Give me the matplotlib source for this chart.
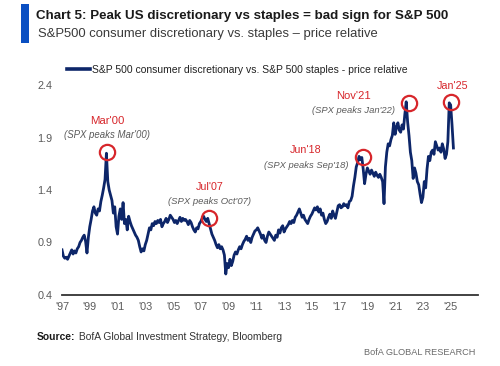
import numpy as np
import matplotlib
matplotlib.use("Agg")
import matplotlib.pyplot as plt
from matplotlib import font_manager
from matplotlib.patches import Rectangle

# ---------------- data (10 readings per year, 0.1-year steps from 1997.0) ----------------
start_year = 1997.0
step = 0.1
rows = [
    [0.83, 0.77, 0.75, 0.76, 0.74, 0.77, 0.80, 0.83, 0.79, 0.82],  # 1997
    [0.80, 0.84, 0.86, 0.90, 0.92, 0.95, 0.97, 0.91, 0.80, 0.95],  # 1998
    [1.05, 1.12, 1.20, 1.24, 1.18, 1.16, 1.22, 1.20, 1.29, 1.35],  # 1999
    [1.42, 1.50, 1.75, 1.48, 1.40, 1.35, 1.30, 1.18, 1.24, 1.05],  # 2000
    [0.98, 1.15, 1.22, 1.12, 1.28, 1.08, 1.12, 1.02, 1.15, 1.10],  # 2001
    [1.06, 1.03, 1.00, 0.97, 0.95, 0.92, 0.86, 0.81, 0.84, 0.82],  # 2002
    [0.88, 0.92, 0.98, 1.04, 1.02, 1.08, 1.06, 1.10, 1.08, 1.11],  # 2003
    [1.09, 1.12, 1.05, 1.08, 1.10, 1.13, 1.09, 1.12, 1.16, 1.14],  # 2004
    [1.12, 1.09, 1.11, 1.08, 1.11, 1.14, 1.10, 1.13, 1.11, 1.12],  # 2005
    [1.10, 1.07, 1.11, 1.09, 1.05, 1.02, 1.00, 1.04, 1.03, 1.08],  # 2006
    [1.10, 1.13, 1.15, 1.12, 1.10, 1.13, 1.08, 1.03, 0.98, 0.95],  # 2007
    [0.92, 0.88, 0.85, 0.88, 0.84, 0.86, 0.83, 0.78, 0.60, 0.70],  # 2008
    [0.66, 0.74, 0.68, 0.72, 0.78, 0.81, 0.79, 0.83, 0.86, 0.84],  # 2009
    [0.88, 0.91, 0.93, 0.96, 0.92, 0.94, 0.90, 0.95, 0.98, 1.01],  # 2010
    [1.02, 1.04, 1.01, 0.98, 0.94, 0.97, 0.92, 0.90, 0.96, 1.00],  # 2011
    [0.98, 0.96, 0.94, 0.92, 0.97, 0.95, 1.02, 0.99, 1.04, 1.06],  # 2012
    [1.00, 1.03, 1.05, 1.07, 1.10, 1.08, 1.11, 1.09, 1.14, 1.16],  # 2013
    [1.19, 1.22, 1.18, 1.14, 1.16, 1.12, 1.10, 1.08, 1.12, 1.15],  # 2014
    [1.17, 1.20, 1.23, 1.21, 1.24, 1.19, 1.22, 1.16, 1.18, 1.12],  # 2015
    [1.08, 1.10, 1.14, 1.17, 1.13, 1.20, 1.16, 1.13, 1.19, 1.25],  # 2016
    [1.26, 1.23, 1.24, 1.27, 1.25, 1.26, 1.23, 1.29, 1.30, 1.34],  # 2017
    [1.44, 1.52, 1.62, 1.66, 1.72, 1.69, 1.71, 1.60, 1.46, 1.55],  # 2018
    [1.61, 1.58, 1.55, 1.59, 1.56, 1.53, 1.57, 1.54, 1.52, 1.55],  # 2019
    [1.52, 1.48, 1.27, 1.62, 1.76, 1.84, 1.82, 1.88, 1.92, 2.04],  # 2020
    [1.93, 2.00, 2.04, 1.97, 1.95, 2.02, 1.98, 2.12, 2.24, 2.05],  # 2021
    [1.92, 1.76, 1.68, 1.51, 1.61, 1.56, 1.48, 1.45, 1.36, 1.28],  # 2022
    [1.33, 1.48, 1.42, 1.60, 1.72, 1.68, 1.76, 1.78, 1.74, 1.86],  # 2023
    [1.82, 1.78, 1.80, 1.76, 1.84, 1.79, 1.70, 1.74, 1.86, 2.23],  # 2024
    [2.21, 2.02, 1.80],                                            # 2025
]
values = [v for r in rows for v in r]
dates = [start_year + i * step for i in range(len(values))]

series_label = "S&P 500 consumer discretionary vs. S&P 500 staples - price relative"
y_ticks = [0.4, 0.9, 1.4, 1.9, 2.4]
x_ticks = [1997, 1999, 2001, 2003, 2005, 2007, 2009, 2011, 2013, 2015, 2017, 2019, 2021, 2023, 2025]
x_tick_labels = ["'97", "'99", "'01", "'03", "'05", "'07", "'09", "'11", "'13", "'15",
                 "'17", "'19", "'21", "'23", "'25"]

# annotations
ann_names = ["Mar'00", "Jul'07", "Jun'18", "Nov'21", "Jan'25"]
ann_subs = ["(SPX peaks Mar'00)", "(SPX peaks Oct'07)", "(SPX peaks Sep'18)", "(SPX peaks Jan'22)", ""]
circ_x = [2000.24, 2007.60, 2018.68, 2021.98, 2025.06]
circ_y = [1.762, 1.133, 1.717, 2.230, 2.235]
lab_x = [2000.24, 2007.63, 2014.57, 2017.98, 2025.14]
lab_y = [2.057, 1.431, 1.781, 2.295, 2.390]
sub_y = [1.924, 1.289, 1.638, 2.155, 0.0]
lab_w = [31, 25, 28, 31, 28]          # label widths in px
sub_w = [80, 77, 78, 77, 0]

title = "Chart 5: Peak US discretionary vs staples = bad sign for S&P 500"
subtitle = "S&P500 consumer discretionary vs. staples \u2013 price relative"
source_bold = "Source:"
source_rest = " BofA Global Investment Strategy, Bloomberg"
brand = "BofA GLOBAL RESEARCH"

# ---------------- style ----------------
W, H = 500, 366
NAVY = "#0d2669"
RED = "#d7262b"
GRAY = "#5a5a5a"

def has_font(name):
    try:
        font_manager.findfont(font_manager.FontProperties(family=name), fallback_to_default=False)
        return True
    except Exception:
        return False

NARROW = "Liberation Sans Narrow" if has_font("Liberation Sans Narrow") else "Liberation Sans"
REG = "Liberation Sans"

fig = plt.figure(figsize=(W / 100, H / 100), dpi=100)
fig.patch.set_facecolor("white")
renderer = fig.canvas.get_renderer()

def fx(x):
    return x / W

def fy(y):
    return 1 - y / H

def fit(t, target_px):
    bb = t.get_window_extent(renderer)
    t.set_fontsize(t.get_fontsize() * target_px / bb.width)
    return t

ax_l, ax_r, ax_t, ax_b = 62, 478, 85, 295
ax = fig.add_axes([fx(ax_l), fy(ax_b), (ax_r - ax_l) / W, (ax_b - ax_t) / H])
ax.set_xlim(1997, 1997 + (ax_r - ax_l) / 13.88)
ax.set_ylim(0.4, 2.4)

line, = ax.plot(dates, values, color=NAVY, lw=2.0, solid_joinstyle="round", label=series_label)

for s in ["top", "right", "left"]:
    ax.spines[s].set_visible(False)
ax.spines["bottom"].set_color("#333333")
ax.spines["bottom"].set_linewidth(1.3)
ax.set_yticks(y_ticks)
ax.set_yticklabels([f"{v:.1f}" for v in y_ticks])
ax.set_xticks(x_ticks)
ax.set_xticklabels(x_tick_labels)
ax.tick_params(axis="both", length=0, colors=GRAY)
ax.tick_params(axis="y", pad=7)
ax.tick_params(axis="x", pad=5)
for t in ax.get_xticklabels() + ax.get_yticklabels():
    t.set_fontfamily(REG)
    t.set_fontsize(7.8)
    t.set_color(GRAY)

# circles
ax.plot(circ_x, circ_y, "o", mfc="none", mec=RED, ms=11, mew=1.6, clip_on=False, zorder=5)

for i, name in enumerate(ann_names):
    t = ax.text(lab_x[i], lab_y[i], name, color=RED, ha="center", va="center",
                fontsize=9, family=NARROW, clip_on=False)
    fit(t, lab_w[i] * 1.12)
    if ann_subs[i]:
        s = ax.text(lab_x[i], sub_y[i], ann_subs[i], color=GRAY, ha="center", va="center",
                    fontsize=8.2, family=NARROW, style="italic", clip_on=False)
        fit(s, sub_w[i] * 1.08)

# legend: size fitted to the reference text width
probe = fig.text(0, 0, series_label, family=NARROW, fontsize=10)
leg_fs = 10 * 315 / probe.get_window_extent(renderer).width
probe.remove()
px_per_em = leg_fs * 100 / 72
leg = ax.legend(handles=[line], loc="center left", bbox_to_anchor=(fx(67), fy(70)),
                bbox_transform=fig.transFigure, frameon=False,
                handlelength=23 / px_per_em, handletextpad=2 / px_per_em,
                borderaxespad=0, borderpad=0,
                prop={"family": NARROW, "size": leg_fs})
leg.get_lines()[0].set_linewidth(2.6)
for t in leg.get_texts():
    t.set_color("#222222")

# header
fig.add_artist(Rectangle((fx(20.5), fy(43)), 8 / W, 39 / H, transform=fig.transFigure,
                         color="#0a4fc2", lw=0))
t_title = fig.text(fx(36.5), fy(15.5), title, fontsize=11.2, fontweight="bold",
                   family=NARROW, color="#1a1a1a", va="center", ha="left")
fit(t_title, 410)
t_sub = fig.text(fx(37.5), fy(34.5), subtitle, fontsize=9.6, family=REG, color="#3a3a3a",
                 va="center", ha="left")
fit(t_sub, 340)

# footer
src_fs = 8.3
t_src = fig.text(fx(37), fy(336.5), source_bold, fontsize=src_fs, fontweight="bold",
                 family=REG, color="#1a1a1a", va="center", ha="left")
t_rest = fig.text(0, fy(336.5), source_rest, fontsize=src_fs, family=REG, color="#333333",
                  va="center", ha="left")
total = t_src.get_window_extent(renderer).width + t_rest.get_window_extent(renderer).width
src_fs = src_fs * 245 / total
t_src.set_fontsize(src_fs)
t_rest.set_fontsize(src_fs)
bb = t_src.get_window_extent(renderer)
t_rest.set_x(bb.x1 / W)
t_brand = fig.text(fx(475), fy(352.5), brand, fontsize=8.3, family=REG, color="#6a6a6a",
                   va="center", ha="right")
fit(t_brand, 112)

fig.savefig("out.png", dpi=100, facecolor="white")
